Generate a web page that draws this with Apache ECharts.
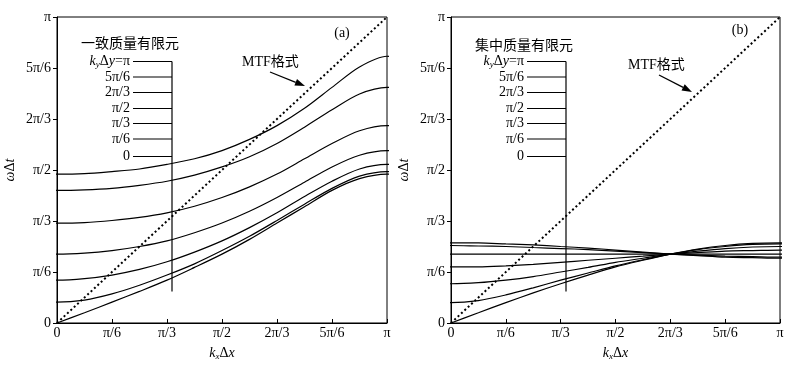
<!DOCTYPE html>
<html>
<head>
<meta charset="utf-8">
<script src="https://cdn.jsdelivr.net/npm/echarts@6/dist/echarts.min.js"></script>
<style>
  html, body { margin: 0; padding: 0; background: #fff; }
  #chart { width: 812px; height: 366px; }
</style>
</head>
<body>
<div id="chart"></div>
<script>
// both axes are in units of pi/6 (0..6 = 0..pi)
var tickLabels = ['0', 'π/6', 'π/3', 'π/2', '2π/3', '5π/6', 'π'];
// first and last samples sit just outside the axis (mirror values) so the
// curves meet the frame with the right slope; they are clipped by the grid
var kx = [-0.5, 0, 0.5, 1, 1.5, 2, 2.5, 3, 3.5, 4, 4.5, 5, 5.5, 6, 6.5];
var kyNames = ['π', '5π/6', '2π/3', 'π/2', 'π/3', 'π/6', '0'];

// (a) consistent mass FEM, omega*dt for each ky*dy (top curve first)
var consPi   = [2.93, 2.92, 2.93, 2.97, 3.02, 3.11, 3.22, 3.38, 3.60, 3.87, 4.21, 4.62, 5.02, 5.23, 5.02];
var cons5Pi6 = [2.61, 2.60, 2.61, 2.64, 2.70, 2.78, 2.90, 3.06, 3.26, 3.52, 3.84, 4.18, 4.49, 4.62, 4.49];
var cons2Pi3 = [1.97, 1.96, 1.97, 2.01, 2.07, 2.16, 2.29, 2.46, 2.67, 2.92, 3.22, 3.52, 3.77, 3.87, 3.77];
var consPi2  = [1.37, 1.35, 1.37, 1.42, 1.50, 1.61, 1.77, 1.96, 2.19, 2.46, 2.76, 3.06, 3.29, 3.38, 3.29];
var consPi3  = [0.87, 0.84, 0.87, 0.94, 1.05, 1.20, 1.39, 1.61, 1.87, 2.16, 2.48, 2.78, 3.02, 3.11, 3.02];
var consPi6  = [0.45, 0.41, 0.45, 0.57, 0.74, 0.94, 1.16, 1.42, 1.70, 2.01, 2.33, 2.64, 2.88, 2.97, 2.88];
var cons0    = [-0.20, 0.00, 0.20, 0.41, 0.62, 0.84, 1.09, 1.35, 1.64, 1.96, 2.28, 2.60, 2.83, 2.92, 2.83];

// (b) lumped mass FEM
var lumpPi   = [1.57, 1.57, 1.57, 1.55, 1.53, 1.50, 1.47, 1.43, 1.39, 1.35, 1.32, 1.29, 1.28, 1.27, 1.28];
var lump5Pi6 = [1.51, 1.52, 1.51, 1.50, 1.48, 1.46, 1.44, 1.41, 1.38, 1.35, 1.33, 1.31, 1.30, 1.29, 1.30];
var lump2Pi3 = [1.35, 1.35, 1.35, 1.35, 1.35, 1.35, 1.35, 1.35, 1.35, 1.35, 1.35, 1.35, 1.35, 1.35, 1.35];
var lumpPi2  = [1.10, 1.10, 1.10, 1.12, 1.15, 1.19, 1.23, 1.27, 1.31, 1.35, 1.38, 1.41, 1.42, 1.43, 1.42];
var lumpPi3  = [0.79, 0.77, 0.79, 0.84, 0.91, 1.00, 1.09, 1.19, 1.27, 1.35, 1.41, 1.46, 1.49, 1.50, 1.49];
var lumpPi6  = [0.44, 0.40, 0.44, 0.55, 0.69, 0.84, 0.98, 1.12, 1.24, 1.35, 1.44, 1.50, 1.54, 1.55, 1.54];
var lump0    = [-0.20, 0.00, 0.20, 0.40, 0.59, 0.77, 0.94, 1.10, 1.23, 1.35, 1.45, 1.52, 1.56, 1.57, 1.56];

// MTF scheme: omega*dt = kx*dx
var mtfX = [0, 6];
var mtfY = [0, 6];

var serif = 'Liberation Serif, Noto Sans CJK SC';
var cjk = 'Noto Sans CJK SC';

function pairs(xs, ys) {
  return xs.map(function (x, i) { return [x, ys[i]]; });
}

var grids = [
  { left: 57, top: 17, width: 330, height: 310 },
  { left: 451, top: 17, width: 329, height: 310 }
];

function makeX (idx) {
  return {
    type: 'value', gridIndex: idx, min: 0, max: 6, interval: 1,
    name: '{i|k}{s|x}Δ{i|x}', nameLocation: 'middle', nameGap: 23,
    nameTextStyle: {
      color: '#000', fontFamily: serif, fontSize: 14,
      rich: {
        i: { fontStyle: 'italic', fontFamily: serif, fontSize: 14, color: '#000' },
        s: { fontStyle: 'italic', fontFamily: serif, fontSize: 9, color: '#000', padding: [6, 0, 0, 0] }
      }
    },
    axisLine: { show: true, lineStyle: { color: '#000', width: 1 } },
    axisTick: { show: true, inside: true, length: 4, lineStyle: { color: '#000' } },
    axisLabel: {
      color: '#000', fontFamily: serif, fontSize: 14, margin: 3,
      formatter: function (v) { return tickLabels[Math.round(v)]; }
    },
    splitLine: { show: false }
  };
}

function makeY (idx) {
  return {
    type: 'value', gridIndex: idx, min: 0, max: 6, interval: 1,
    name: '{i|ω}Δ{i|t}', nameLocation: 'middle', nameGap: 40, nameRotate: 90,
    nameTextStyle: {
      color: '#000', fontFamily: serif, fontSize: 14,
      rich: { i: { fontStyle: 'italic', fontFamily: serif, fontSize: 14, color: '#000' } }
    },
    axisLine: { show: true, lineStyle: { color: '#000', width: 1 } },
    axisTick: { show: true, inside: false, length: 4, lineStyle: { color: '#000' } },
    axisLabel: {
      color: '#000', fontFamily: serif, fontSize: 14, margin: 6,
      formatter: function (v) { return tickLabels[Math.round(v)]; }
    },
    splitLine: { show: false }
  };
}

var curvesA = [consPi, cons5Pi6, cons2Pi3, consPi2, consPi3, consPi6, cons0];
var curvesB = [lumpPi, lump5Pi6, lump2Pi3, lumpPi2, lumpPi3, lumpPi6, lump0];

var series = [];
[curvesA, curvesB].forEach(function (set, g) {
  set.forEach(function (ys, k) {
    series.push({
      type: 'line', name: kyNames[k], xAxisIndex: g, yAxisIndex: g,
      data: pairs(kx, ys), smooth: 0.3, clip: true,
      symbol: 'none', silent: true,
      lineStyle: { color: '#000', width: 1.2 }
    });
  });
  series.push({
    type: 'line', name: 'MTF', xAxisIndex: g, yAxisIndex: g,
    data: pairs(mtfX, mtfY), symbol: 'none', silent: true,
    lineStyle: { color: '#000', width: 2, type: [2, 2.6] }
  });
});

// annotation layout (pixels)
var rowsY = [61.5, 77, 92.5, 108.5, 123.5, 139, 156.5];
var panels = [
  { vx: 172, tickX: 133, title: '一致质量有限元', titleX: 130, titleY: 43,
    tag: '(a)', tagX: 342, tagY: 33, mtfX: 242, mtfY: 62, arrow: [270, 72, 305, 86] },
  { vx: 566, tickX: 527, title: '集中质量有限元', titleX: 524, titleY: 45,
    tag: '(b)', tagX: 740, tagY: 30, mtfX: 628, mtfY: 65, arrow: [659, 75, 692, 92] }
];

var graphics = [];
var richRow = {
  i: { fontStyle: 'italic', fontFamily: serif, fontSize: 14, fill: '#000' },
  s: { fontStyle: 'italic', fontFamily: serif, fontSize: 9, fill: '#000', padding: [6, 0, 0, 0] },
  n: { fontFamily: serif, fontSize: 14, fill: '#000' }
};
panels.forEach(function (p) {
  graphics.push({
    type: 'text', style: { text: p.title, x: p.titleX, y: p.titleY, fill: '#000',
      font: '14px ' + cjk, align: 'center', verticalAlign: 'middle',
      textAlign: 'center', textVerticalAlign: 'middle' }
  });
  graphics.push({
    type: 'line', shape: { x1: p.vx, y1: rowsY[0], x2: p.vx, y2: 291.5 },
    style: { stroke: '#000', lineWidth: 1.2 }, z: 10
  });
  rowsY.forEach(function (y, k) {
    graphics.push({
      type: 'line', shape: { x1: p.tickX, y1: y, x2: p.vx, y2: y },
      style: { stroke: '#000', lineWidth: 1.2 }, z: 10
    });
    var label = k === 0 ? '{i|k}{s|y}{n|Δ}{i|y}{n|=π}' : kyNames[k];
    graphics.push({
      type: 'text', style: { text: label, x: p.tickX - 3, y: y, fill: '#000',
        font: '14px ' + serif, align: 'right', verticalAlign: 'middle',
        textAlign: 'right', textVerticalAlign: 'middle', rich: richRow }
    });
  });
  graphics.push({
    type: 'text', style: { text: p.tag, x: p.tagX, y: p.tagY, fill: '#000',
      font: '14px ' + serif, align: 'center', verticalAlign: 'middle',
      textAlign: 'center', textVerticalAlign: 'middle' }
  });
  graphics.push({
    type: 'text', style: { text: 'MTF格式', x: p.mtfX, y: p.mtfY, fill: '#000',
      font: '14px ' + serif, align: 'left', verticalAlign: 'middle',
      textAlign: 'left', textVerticalAlign: 'middle' }
  });
  var a = p.arrow;
  var dx = a[2] - a[0], dy = a[3] - a[1];
  var len = Math.sqrt(dx * dx + dy * dy);
  var ux = dx / len, uy = dy / len;
  var bx = a[2] - ux * 10, by = a[3] - uy * 10;
  graphics.push({
    type: 'line', shape: { x1: a[0], y1: a[1], x2: bx, y2: by },
    style: { stroke: '#000', lineWidth: 1.3 }
  });
  graphics.push({
    type: 'polygon',
    shape: { points: [[a[2], a[3]], [bx - uy * 3.5, by + ux * 3.5], [bx + uy * 3.5, by - ux * 3.5]] },
    style: { fill: '#000' }
  });
});

var chart = echarts.init(document.getElementById('chart'), null, { renderer: 'canvas' });
chart.setOption({
  backgroundColor: '#fff',
  animation: false,
  grid: grids.map(function (g) {
    return Object.assign({ show: true, borderColor: '#000', borderWidth: 1, backgroundColor: 'transparent' }, g);
  }),
  xAxis: [makeX(0), makeX(1)],
  yAxis: [makeY(0), makeY(1)],
  series: series,
  graphic: graphics
});
</script>
</body>
</html>
